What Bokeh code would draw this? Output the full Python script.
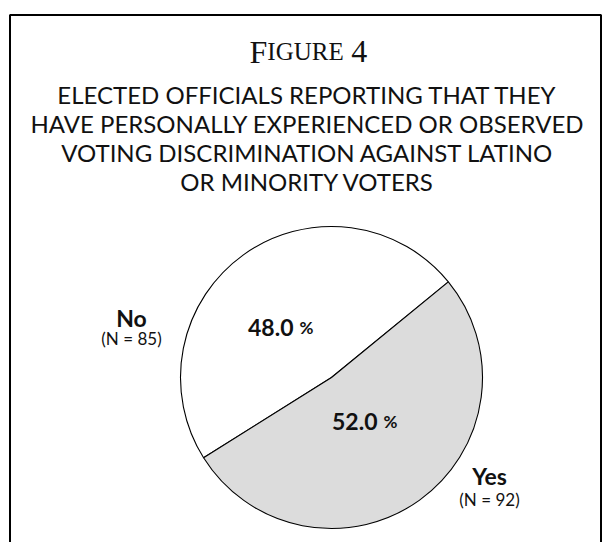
import math
from bokeh.plotting import figure
from bokeh.models import Range1d, ColumnDataSource
from bokeh.core.properties import value
from bokeh.embed import file_html
from bokeh.resources import INLINE

# ---- data ----
categories = ["No", "Yes"]
percents = [48.0, 52.0]
counts = [85, 92]
colors = ["#ffffff", "#dcdcdc"]
title_lines = [
    "ELECTED OFFICIALS REPORTING THAT THEY",
    "HAVE PERSONALLY EXPERIENCED OR OBSERVED",
    "VOTING DISCRIMINATION AGAINST LATINO",
    "OR MINORITY VOTERS",
]

W, H = 602, 542
p = figure(width=W, height=H, output_backend="svg", toolbar_location=None,
           x_range=Range1d(0, W), y_range=Range1d(0, H), min_border=0)
p.axis.visible = False
p.grid.visible = False
p.outline_line_color = None
p.background_fill_color = "white"
p.border_fill_color = "white"

def Y(y):
    return H - y

def T(y, size):
    # baseline correction for rendered alphabetic baseline
    return Y(y - 0.36 * size)

# frame
p.line(x=[9.5, 9.5, 600.5, 600.5], y=[-10, Y(14.5), Y(14.5), -10],
       line_color="black", line_width=2)

# Figure heading (small caps)
serif = value("Liberation Serif")
x0 = 249
p.text(x=[x0], y=[T(63, 32)], text=["F"], text_font=serif, text_font_size="32px",
       text_align="left", text_baseline="alphabetic", text_color="#111111")
p.text(x=[x0 + 17.8], y=[T(63, 32)], text=["IGURE"], text_font=serif, text_font_size="25px",
       text_align="left", text_baseline="alphabetic", text_color="#111111")
p.text(x=[x0 + 17.8 + 76 + 8], y=[T(63, 32)], text=["4"], text_font=serif, text_font_size="32px",
       text_align="left", text_baseline="alphabetic", text_color="#111111")

sans = value("Lato")
for i, line in enumerate(title_lines):
    p.text(x=[307], y=[T(103 + 29 * i, 24)], text=[line], text_font=sans,
           text_font_size="24px", text_align="center", text_baseline="alphabetic",
           text_color="#111111")

# pie
cx, cy, r = 331, Y(377), 151
start0 = math.radians(39.3)
starts, ends = [], []
acc = start0
for v in percents:
    starts.append(acc)
    acc += v / 100.0 * 2 * math.pi
    ends.append(acc)
src = ColumnDataSource(dict(start=starts, end=ends, color=colors, cat=categories))
p.wedge(x=cx, y=cy, radius=r, start_angle="start", end_angle="end",
        fill_color="color", line_color="black", line_width=1.1, source=src)

# percent labels
pct_pos = [(293, 335), (377, 429)]
for (px, py), v in zip(pct_pos, percents):
    p.text(x=[px], y=[T(py, 23)], text=[f"{v:.1f}"], text_font=sans, text_font_style="bold",
           text_font_size="23px", text_align="right", text_baseline="alphabetic",
           text_color="#111111")
    p.text(x=[px + 6], y=[T(py, 23)], text=["%"], text_font=sans, text_font_style="bold",
           text_font_size="17px", text_align="left", text_baseline="alphabetic",
           text_color="#111111")

# category labels
cat_pos = [(131, 326, 18), (489, 484, 21)]
for (lx, ly, gap), c, n in zip(cat_pos, categories, counts):
    p.text(x=[lx], y=[T(ly, 23)], text=[c], text_font=sans, text_font_style="bold",
           text_font_size="23px", text_align="center", text_baseline="alphabetic",
           text_color="#111111")
    p.text(x=[lx], y=[T(ly + gap, 17)], text=[f"(N = {n})"], text_font=sans,
           text_font_size="17px", text_align="center", text_baseline="alphabetic",
           text_color="#111111")

open("out.html", "w").write(file_html(p, INLINE))
